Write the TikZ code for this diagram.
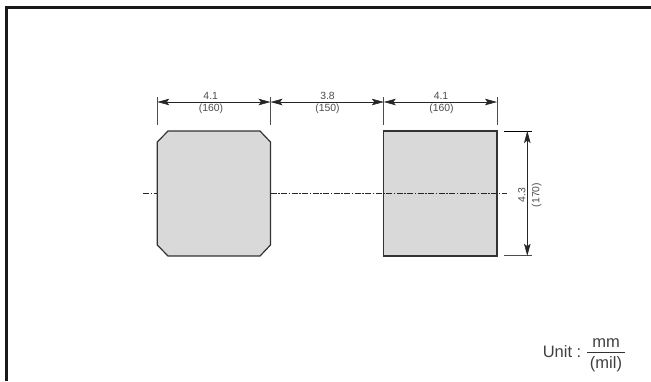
\documentclass[tikz,border=0pt]{standalone}
\usepackage{fontspec}
\setmainfont{Liberation Sans}
\usetikzlibrary{arrows.meta}
\tikzset{x=1pt,y=-1pt,
 chip/.style={draw=black!80,fill=black!15,line width=1.2pt,line join=miter},
 ext/.style={draw=black!70,line width=0.7pt},
 dim/.style={draw=black!85,line width=0.6pt,{Stealth[length=12pt,width=6.5pt,inset=2.5pt]}-{Stealth[length=12pt,width=6.5pt,inset=2.5pt]}},
 lab/.style={font=\fontsize{10.4}{11}\selectfont,text=black!70,inner sep=0pt},
 unitlab/.style={font=\fontsize{16.5}{18}\selectfont,text=black!75,inner sep=0pt},
 center line/.style={draw=black!85,line width=0.6pt,dash pattern=on 6pt off 1.5pt on 1.5pt off 1.5pt}}
\begin{document}
\begin{tikzpicture}
\useasboundingbox (0,0) rectangle (651,381);
\draw[line width=2.7pt,black!90] (6.4,381) -- (6.4,7.5) -- (651,7.5);
\draw[chip] (168,131) -- (260,131) -- (270.5,142) -- (270.5,245) -- (260,256) -- (168,256) -- (157.3,245) -- (157.3,142) -- cycle;
\draw[chip] (383.8,131) rectangle (497,256);
\coordinate (cl0) at (143,193.4);
\coordinate (cl1) at (157.3,193.4);
\coordinate (cl2) at (270.5,193.4);
\coordinate (cl3) at (507,193.4);
\draw[center line] (cl0) -- (cl1);
\draw[center line] (cl2) -- (cl3);
\coordinate (a) at (157.3,102); \coordinate (b) at (270.5,102);
\coordinate (c) at (383.8,102); \coordinate (d) at (497,102);
\foreach \p in {a,b,c,d} \draw[ext] (\p) ++(0,-5) -- ++(0,28);
\draw[dim] (a) -- (b);
\draw[dim] (b) -- (c);
\draw[dim] (c) -- (d);
\node[lab] (t1) at (210.7,95.7) {4.1};
\node[lab] (t2) at (211,109) {(160)};
\node[lab] (t3) at (327.5,95.7) {3.8};
\node[lab] (t4) at (327.5,109) {(150)};
\node[lab] (t5) at (441,95.7) {4.1};
\node[lab] (t6) at (441.5,109) {(160)};
\coordinate (e) at (504.3,131); \coordinate (f) at (531.7,131);
\coordinate (g) at (504.3,255.8); \coordinate (h) at (531.7,255.8);
\draw[ext,draw=black] (e) -- (f); \draw[ext,line width=1pt] (g) -- (h);
\coordinate (i) at (527.3,131); \coordinate (j) at (527.3,255.8);
\draw[dim] (i) -- (j);
\node[lab,rotate=90] (t7) at (521.7,195) {4.3};
\node[lab,rotate=90] (t8) at (536.7,195) {(170)};
\node[unitlab,anchor=east] (u) at (581.5,351.7) {Unit :};
\node[unitlab] (mm) at (606,342.7) {mm};
\node[unitlab] (mil) at (606,364) {(mil)};
\draw[line width=0.8pt,black!80] (587.3,352.3) -- (625,352.3);
\end{tikzpicture}
\end{document}
